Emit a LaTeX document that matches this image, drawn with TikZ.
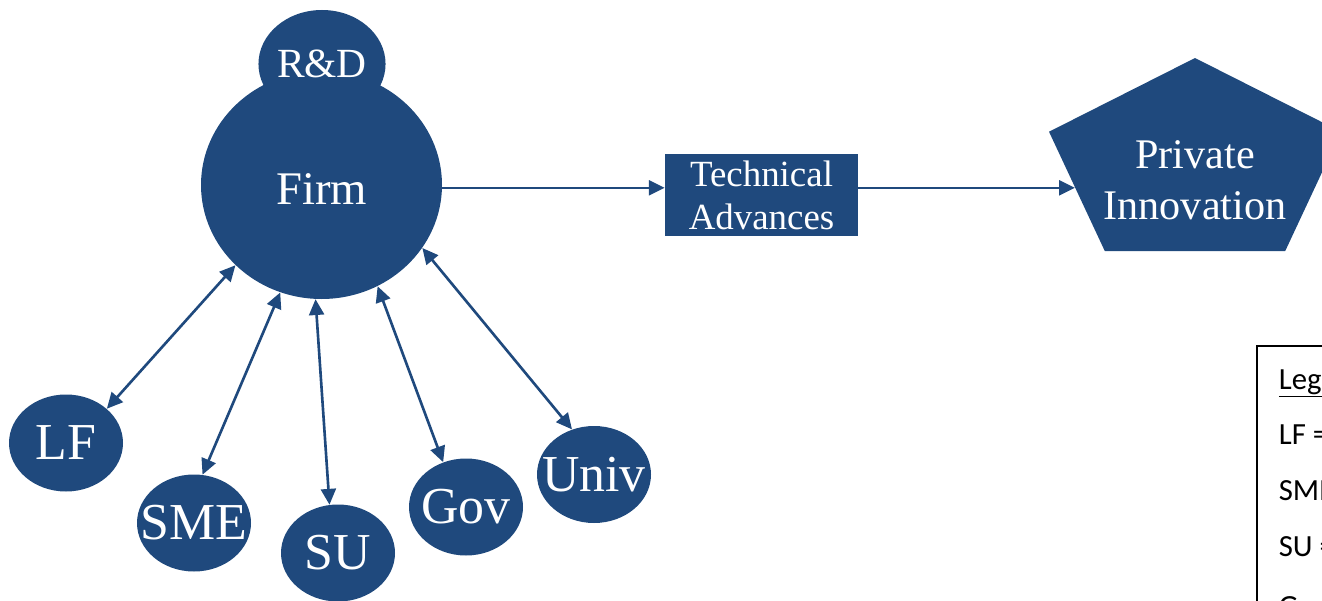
\documentclass[tikz,border=0pt]{standalone}
\usepackage{fontspec}
\setmainfont{Liberation Serif}
\newfontfamily\legendfont{Carlito}
\usepackage{tikz}
\usetikzlibrary{arrows.meta, positioning, shapes.geometric, calc}
\definecolor{firm_blue}{RGB}{31, 73, 125}

\begin{document}
\begin{tikzpicture}[
    blob/.style={ellipse, fill=firm_blue, text=white, inner sep=0pt,
                 minimum width=2.28cm, minimum height=1.94cm,
                 font=\fontsize{29.5}{32}\selectfont},
    arr/.style={-{Triangle[length=9pt, width=8.5pt]}, line width=1.5pt, firm_blue},
    biarr/.style={{Triangle[length=9pt, width=8.5pt]}-{Triangle[length=9pt, width=8.5pt]},
                  line width=1.5pt, firm_blue},
    leg/.style={anchor=base west, inner sep=0pt,
                font=\legendfont\fontsize{17.5}{20}\selectfont}]
  \useasboundingbox (0,0) rectangle (26.44,12);
  % Firm with its R&D
  \node[ellipse, fill=firm_blue, text=white, inner sep=0pt, minimum width=4.82cm,
        minimum height=4.56cm, text height=0.80cm, text depth=0cm,
        font=\fontsize{26.6}{30}\selectfont] (firm) at (6.43,8.30) {Firm};
  \node[ellipse, fill=firm_blue, text=white, inner sep=0pt, minimum width=2.26cm,
        minimum height=2.16cm, font=\fontsize{23.6}{26}\selectfont] (rd) at (6.44,10.72)
    {R\&D};
  % Technical advances and innovation
  \node[rectangle, fill=firm_blue, text=white, align=center, inner sep=0pt,
        minimum width=3.86cm, minimum height=1.64cm,
        font=\fontsize{21}{24.5}\selectfont] (tech) at (15.23,8.10) {Technical\\Advances};
  \node[regular polygon, regular polygon sides=5, fill=firm_blue, inner sep=0pt,
        minimum size=6.14cm, yscale=0.695, transform shape] (innov) at (23.90,8.706) {};
  \node[text=white, align=center, font=\fontsize{24}{29}\selectfont] (innov_txt)
    at (23.90,8.40) {Private\\Innovation};
  \coordinate (innov_in) at ($(innov.corner 2)!0.47!(innov.corner 3)$);
  % Partners
  \node[blob] (lf) at (1.32,3.14) {\makebox[0pt]{LF}};
  \node[blob] (sme) at (3.88,1.54) {\makebox[0pt]{SME}};
  \node[blob] (su) at (6.76,0.94) {\makebox[0pt]{SU}};
  \node[blob] (gov) at (9.32,1.86) {\makebox[0pt]{Gov}};
  \node[blob] (univ) at (11.88,2.51) {\makebox[0pt]{Univ}};
  % Arrows
  \draw[arr] (firm.east |- innov_in) -- (tech.west |- innov_in);
  \draw[arr] (tech.east |- innov_in) -- (innov_in);
  \draw[biarr] (firm.223) -- (lf.40);
  \draw[biarr] (firm.249) -- (sme.80);
  \draw[biarr] (firm.267) -- (su.100);
  \draw[biarr] (firm.299) -- (gov.117);
  \draw[biarr] (firm.328) -- (univ.116);
  % Legend
  \draw[line width=1.1pt] (25.14,5.08) rectangle (28.5,-0.6);
  \node[leg] (leg_title) at (25.57,4.22) {\underline{Legend:}};
  \node[leg] (leg_lf) at (25.57,3.12) {LF = Large Firm};
  \node[leg] (leg_sme) at (25.57,2.00) {SME = Small \& Medium Enterprise};
  \node[leg] (leg_su) at (25.57,0.88) {SU = Start-Up};
  \node[leg] (leg_gov) at (25.57,-0.32) {Gov = Government};
\end{tikzpicture}
\end{document}
